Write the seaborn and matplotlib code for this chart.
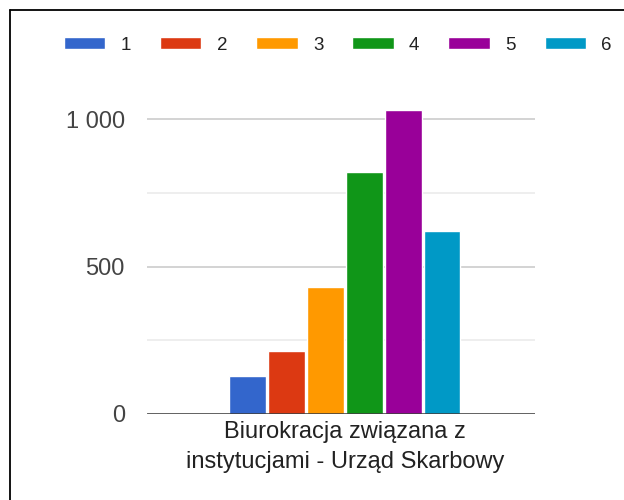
import matplotlib
matplotlib.use("Agg")
import matplotlib.pyplot as plt
import seaborn as sns
import pandas as pd
from matplotlib.lines import Line2D
from matplotlib.ticker import FuncFormatter

category = ["Biurokracja związana z\ninstytucjami - Urząd Skarbowy"]
series = ["1", "2", "3", "4", "5", "6"]
values = [129, 213, 431, 820, 1030, 621]
colors = ["#3366cc", "#dc3912", "#ff9900", "#109618", "#990099", "#0099c6"]
yticks = [0, 500, 1000]

df = pd.DataFrame({"cat": category * len(series), "series": series, "value": values})

sns.set_style("white")
plt.rcParams["font.family"] = ["Liberation Sans", "DejaVu Sans"]

fig = plt.figure(figsize=(6.24, 5.0), dpi=100)
W, H = 624, 500
left, right, base, top = 147, 535, 414, 414 - 1100 * 0.2947
ax = fig.add_axes([left / W, 1 - base / H, (right - left) / W, (base - top) / H])

sns.barplot(data=df, x="cat", y="value", hue="series", palette=colors,
            width=0.603, gap=0.07, ax=ax, saturation=1, legend=True)

ax.set_xlim(-0.51, 0.49)
ax.set_ylim(0, 1100)
for y in [250, 750]:
    ax.axhline(y, color="#ebebeb", lw=1.2, zorder=0)
for y in [500, 1000]:
    ax.axhline(y, color="#cccccc", lw=1.2, zorder=0)
ax.axhline(0, color="#333333", lw=1.8, zorder=5)

ax.set_yticks(yticks)
ax.yaxis.set_major_formatter(FuncFormatter(lambda v, p: f"{int(v):,}".replace(",", " ")))
ax.tick_params(axis="y", length=0, pad=16, labelsize=17, labelcolor="#444444")
ax.tick_params(axis="x", length=0, pad=5, labelsize=17, labelcolor="#222222")
for lab in ax.get_xticklabels():
    lab.set_linespacing(1.45)
ax.set_xlabel("")
ax.set_ylabel("")
for s in ax.spines.values():
    s.set_visible(False)

handles, labels = ax.get_legend_handles_labels()
ax.get_legend().remove()
fig.legend(handles, labels, loc="center left", bbox_to_anchor=(64 / W, 1 - 45 / H),
           ncol=6, frameon=False, fontsize=13.5, labelcolor="#222222",
           handlelength=2.2, handleheight=0.62, handletextpad=0.82,
           columnspacing=1.55, borderpad=0, borderaxespad=0)

fig.add_artist(Line2D([10 / W, 10 / W], [0, 1 - 10 / H], color="black", lw=1.3, transform=fig.transFigure))
fig.add_artist(Line2D([10 / W, 1], [1 - 10 / H, 1 - 10 / H], color="black", lw=1.3, transform=fig.transFigure))

fig.savefig("out.png", dpi=100, facecolor="white")
